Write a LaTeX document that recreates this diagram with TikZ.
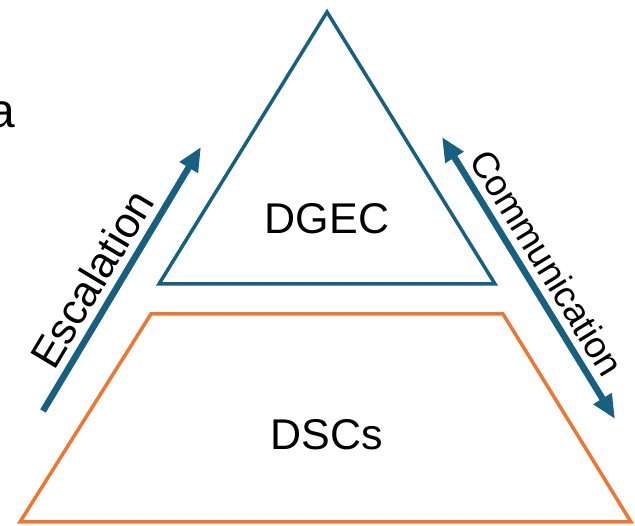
\documentclass[tikz,border=0pt]{standalone}
\usepackage{fontspec}
\setmainfont{Liberation Sans}
\usetikzlibrary{arrows.meta}
\definecolor{dblue}{RGB}{24,96,130}
\definecolor{dorange}{RGB}{236,119,52}
\begin{document}
\begin{tikzpicture}[x=1pt,y=-1pt,
  tri/.style={draw=dblue,line width=3.5pt,line join=miter},
  trap/.style={draw=dorange,line width=3.5pt,line join=miter},
  bigarrow/.style={draw=dblue,line width=6.5pt},
  lbl/.style={font=\fontsize{43}{50}\selectfont,inner sep=0pt},
  arrlbl/.style={font=\fontsize{37}{42}\selectfont,inner sep=0pt}]
\useasboundingbox (0,0) rectangle (635,526);
% triangle
\coordinate (tA) at (327,12);
\coordinate (tL) at (159,284);
\coordinate (tR) at (495,284);
\draw[tri] (tA) -- (tL) -- (tR) -- cycle;
% trapezoid
\coordinate (pTL) at (151,314);
\coordinate (pTR) at (503,314);
\coordinate (pBR) at (631,522);
\coordinate (pBL) at (20,522);
\draw[trap] (pTL) -- (pTR) -- (pBR) -- (pBL) -- cycle;
\node[lbl] (dgec) at (327,219) {DGEC};
\node[lbl] (dscs) at (327,435) {DSCs};
% cut-off text
\node[anchor=base east,inner sep=0pt,font=\fontsize{48}{56}\selectfont] (acut) at (15,128) {a};
% escalation arrow
\coordinate (eT) at (43,411);
\coordinate (eH) at (201,147);
\draw[bigarrow,-{Triangle[length=24pt,width=20pt]}] (eT) -- (eH)
  node[arrlbl,pos=0.45,sloped,above=7pt,font=\fontsize{43}{50}\selectfont] (esc) {Escalation};
% communication arrow
\coordinate (cT) at (442,137);
\coordinate (cB) at (615,419);
\draw[bigarrow,{Triangle[length=24pt,width=20pt]}-{Triangle[length=24pt,width=20pt]}] (cT) -- (cB)
  node[arrlbl,pos=0.49,sloped,above=7pt] (com) {Communication};
\end{tikzpicture}
\end{document}
